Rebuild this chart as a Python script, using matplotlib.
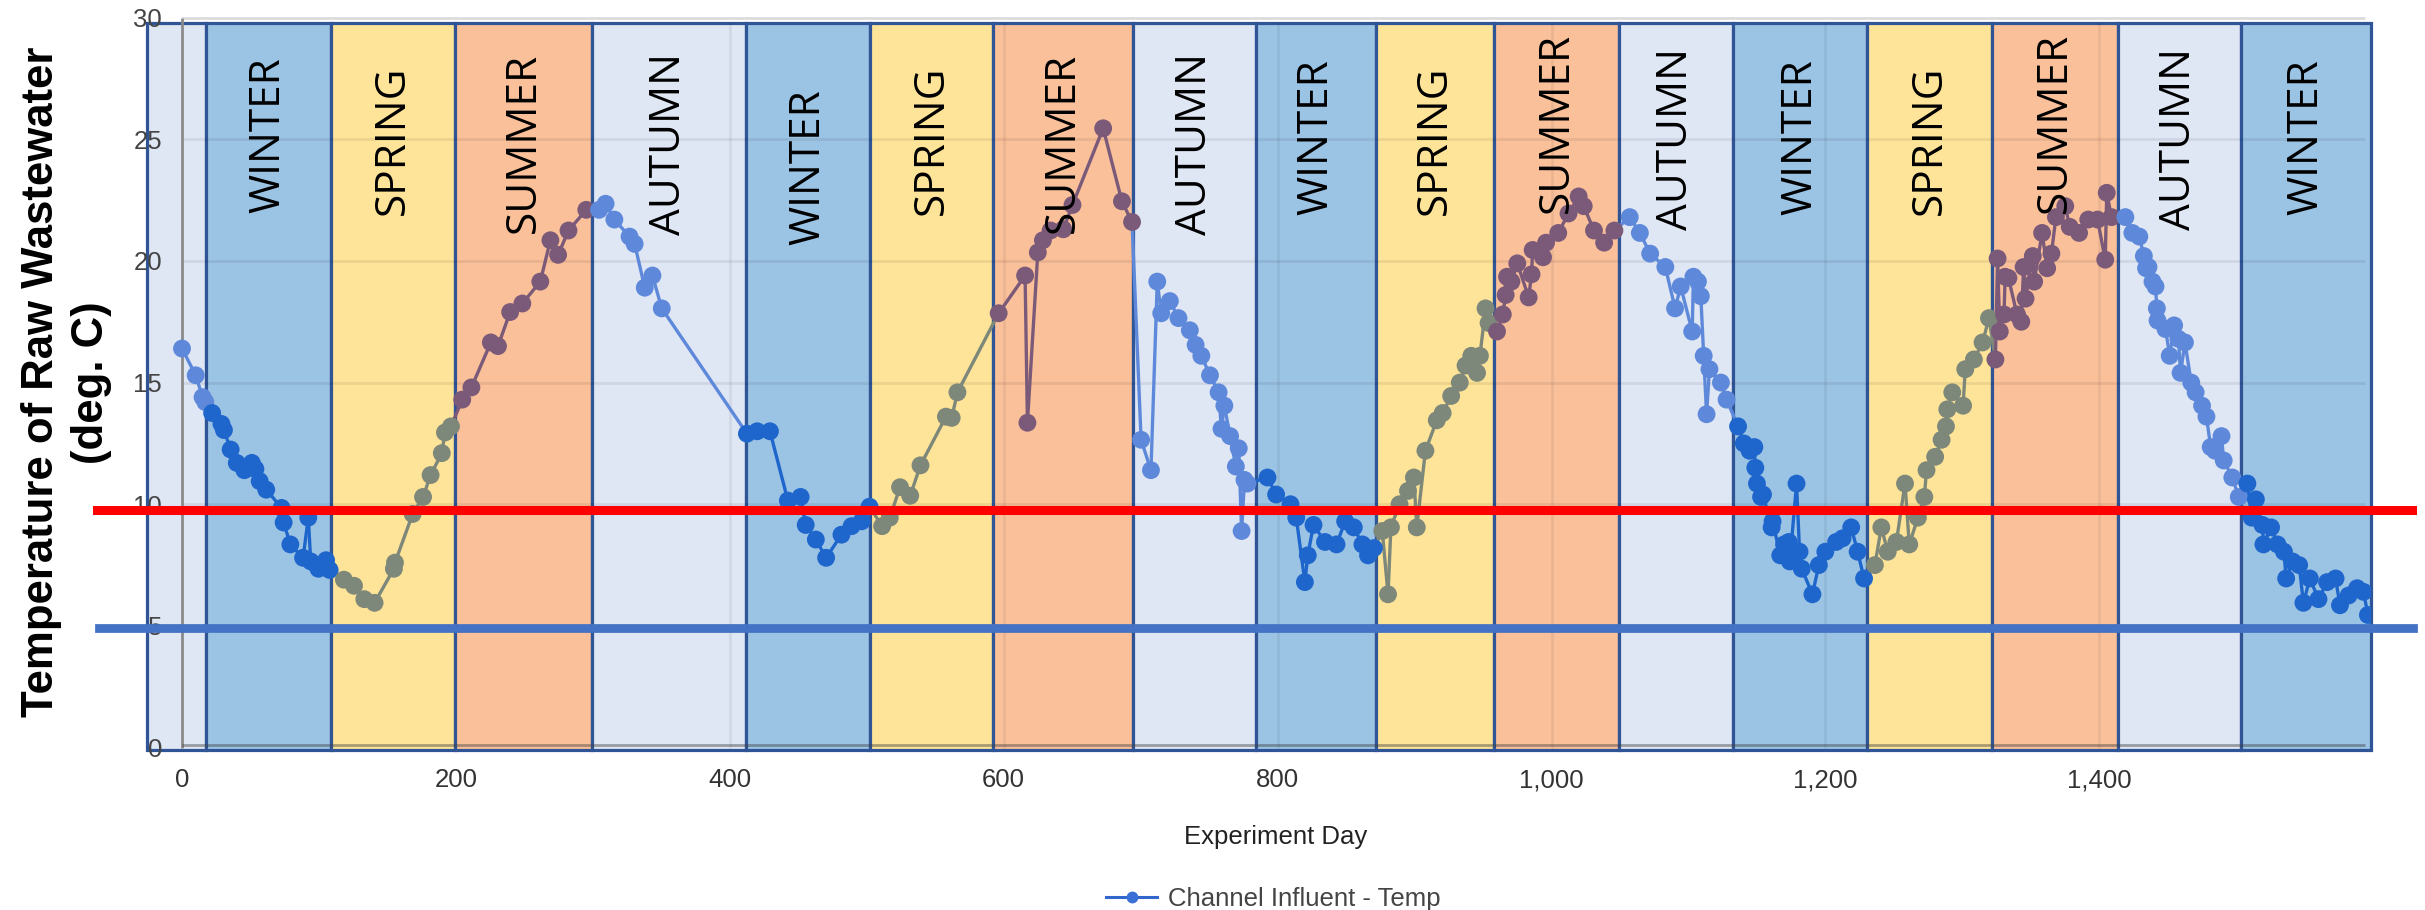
import numpy as np
import matplotlib
matplotlib.use('Agg')
import matplotlib.pyplot as plt
from matplotlib import font_manager
from matplotlib.patches import Rectangle
from matplotlib.collections import LineCollection
from matplotlib.lines import Line2D
from matplotlib.ticker import FuncFormatter

plt.rcParams['font.family'] = ['Liberation Sans', 'DejaVu Sans']

# experiment day / raw wastewater temperature (deg C)
day = np.array([
    0, 10, 15, 17, 22, 28.8, 30.6, 35.5, 40, 45.5, 51, 53.6, 56.7, 61.5, 72.7, 74.2, 79.1,
    88.4, 92.2, 94, 99.6, 105.2, 107.8,
    118.2, 125.6, 133.1, 140.6, 154.7, 155.5, 168.4, 176, 181.5, 189.7, 192, 196.4,
    204.6, 211.3, 225.5, 230.7, 239.6, 248.5, 261.6, 269, 274.6, 282.2, 295.2,
    304.5, 309.3, 315.7, 326.8, 330.5, 337.9, 343.5, 350.3, 412.5, 420, 429.3,
    442.4, 451.7, 455.4, 462.8, 470.3, 481.5, 488.9, 496.3, 502,
    511.2, 516.8, 524.3, 531.7, 539.2, 557.8, 562, 566.2,
    596.3, 615.6, 617.3, 624.9, 628.6, 634.2, 643.5, 650.2, 672.6, 686.3, 693.7,
    700.3, 707.5, 712.1, 715, 721.3, 727.6, 735.9, 740.1, 744.3, 750.6, 756.9, 759, 761.1,
    765.3, 769.5, 771.6, 773.7, 775.8, 777.9,
    792.6, 798.9, 809.4, 813.6, 819.9, 822, 826.2, 834.6, 843, 849.3, 855.6, 861.9, 866, 870.3,
    876.4, 880.6, 882.7, 889, 895.2, 899.5, 901.6, 907.9, 916.2, 920.5, 926.7, 933, 937.2,
    941.4, 945.6, 947.7, 951.8, 954,
    960.2, 964.4, 966.5, 967.5, 970.7, 975, 983.3, 985.4, 986.2, 993.8, 996, 1004.9, 1012.4,
    1019.8, 1023.5, 1031, 1038.4, 1045.9,
    1057.1, 1064.5, 1072, 1083.1, 1090.2, 1094.3, 1102.7, 1103.6, 1106.9, 1109, 1111.1,
    1113.2, 1115.3, 1123.7, 1127.8,
    1136.2, 1140.4, 1144.6, 1148.1, 1148.8, 1150, 1153, 1154.4, 1160.7, 1161.4, 1167, 1169.8,
    1173.2, 1174, 1178.9, 1181.1, 1182.7, 1190.5, 1195.2, 1199.9, 1207.8, 1212.5, 1218.8,
    1223.5, 1228.2,
    1236.1, 1240.8, 1245.5, 1251.8, 1258.1, 1261.2, 1267.5, 1272.2, 1273.8, 1280.1, 1284.8,
    1288, 1289, 1292.6, 1300.5, 1302.1, 1308.4, 1314.7, 1319.4,
    1324.1, 1325.7, 1327.3, 1330.4, 1331.2, 1333.6, 1339.9, 1343, 1344.7, 1346.1, 1351.4,
    1352.4, 1358.2, 1361.9, 1365, 1368.3, 1375.1, 1378.4, 1385.2, 1391.9, 1398.7, 1404.3,
    1405.4, 1408.9,
    1419, 1424.1, 1429.2, 1432.5, 1434.1, 1435.9, 1438.8, 1441, 1442, 1442.5, 1448.3, 1451.4,
    1454.6, 1457.7, 1459.3, 1462.5, 1467.1, 1470.3, 1475, 1478.2, 1481.3, 1484.5, 1489.2,
    1490.8, 1497.1, 1501.8,
    1508.1, 1511.2, 1514.3, 1519.1, 1519.8, 1525.4, 1530.1, 1534.8, 1536.4, 1541.1, 1545.9,
    1549, 1553.7, 1560, 1566.3, 1572.5, 1575.7, 1582, 1588.2, 1592.9, 1596.1])

temp = np.array([
    16.4, 15.3, 14.4, 14.2, 13.75, 13.3, 13.05, 12.25, 11.7, 11.4, 11.7, 11.45, 10.95, 10.6,
    9.85, 9.25, 8.35, 7.8, 9.45, 7.65, 7.35, 7.7, 7.3,
    6.9, 6.65, 6.1, 5.95, 7.35, 7.6, 9.6, 10.3, 11.2, 12.1, 12.95, 13.2,
    14.3, 14.8, 16.65, 16.5, 17.9, 18.25, 19.15, 20.85, 20.25, 21.25, 22.1,
    22.1, 22.35, 21.7, 21.0, 20.7, 18.9, 19.4, 18.05, 12.9, 13.0, 13.0,
    10.15, 10.3, 9.15, 8.55, 7.8, 8.75, 9.1, 9.3, 9.9,
    9.1, 9.45, 10.7, 10.35, 11.6, 13.6, 13.55, 14.6,
    17.85, 19.4, 13.35, 20.35, 20.85, 21.25, 21.3, 22.3, 25.45, 22.45, 21.6,
    12.65, 11.4, 19.15, 17.85, 18.35, 17.65, 17.15, 16.55, 16.1, 15.3, 14.6, 13.1, 14.05,
    12.8, 11.55, 12.3, 8.9, 11.0, 10.85,
    11.1, 10.4, 10.0, 9.45, 6.8, 7.9, 9.15, 8.45, 8.35, 9.3, 9.05, 8.35, 7.9, 8.2,
    8.9, 6.3, 9.05, 10.0, 10.55, 11.1, 9.05, 12.2, 13.45, 13.75, 14.45, 15.0, 15.7,
    16.1, 15.4, 16.1, 18.05, 17.45,
    17.1, 17.8, 18.6, 19.35, 19.15, 19.9, 18.5, 19.45, 20.45, 20.15, 20.75, 21.15, 21.95,
    22.65, 22.25, 21.25, 20.75, 21.25,
    21.8, 21.15, 20.3, 19.75, 18.05, 18.95, 17.1, 19.35, 19.15, 18.55, 16.1,
    13.7, 15.55, 15.0, 14.3,
    13.2, 12.5, 12.2, 12.35, 11.5, 10.85, 10.3, 10.4, 9.05, 9.3, 7.9, 8.35,
    8.45, 7.65, 10.85, 8.05, 7.35, 6.3, 7.5, 8.05, 8.45, 8.6, 9.05,
    8.05, 6.95,
    7.5, 9.05, 8.05, 8.45, 10.85, 8.35, 9.45, 10.3, 11.4, 11.95, 12.65,
    13.2, 13.9, 14.6, 14.05, 15.55, 15.95, 16.65, 17.65,
    15.95, 20.1, 17.1, 17.8, 19.35, 19.3, 17.8, 17.5, 19.75, 18.45, 20.2,
    19.15, 21.15, 19.7, 20.3, 21.8, 22.25, 21.4, 21.15, 21.7, 21.7, 20.05,
    22.8, 21.8,
    21.8, 21.15, 21.0, 20.2, 19.7, 19.75, 19.15, 18.95, 18.05, 17.55, 17.2, 16.1,
    17.35, 16.8, 15.4, 16.65, 15.0, 14.6, 14.05, 13.6, 12.35, 12.2, 12.8,
    11.8, 11.1, 10.3,
    10.85, 9.45, 10.2, 9.15, 8.35, 9.05, 8.35, 8.05, 6.95, 7.65, 7.5,
    5.95, 6.95, 6.1, 6.8, 6.95, 5.85, 6.25, 6.55, 6.4, 5.45])

season_edges = [17.6, 108.9, 199.0, 299.6, 411.6, 502.5, 592.5, 694.6, 784.0, 871.9,
                958.3, 1049.6, 1132.8, 1230.0, 1321.8, 1413.3, 1503.4, 1598.3]
season_names = ['WINTER', 'SPRING', 'SUMMER', 'AUTUMN'] * 4 + ['WINTER']
# where each season word starts (bottom of the rotated text), deg C
label_y = [21.97, 21.89, 21.15, 21.07, 20.66, 21.89, 21.15, 21.07, 21.89, 21.89,
           21.97, 21.28, 21.89, 21.89, 21.97, 21.28, 21.89]

limit_red = 9.75
limit_blue = 4.9

x_ticks = [0, 200, 400, 600, 800, 1000, 1200, 1400]
y_ticks = [0, 5, 10, 15, 20, 25, 30]

fill = {'WINTER': '#9BC3E4', 'SPRING': '#FEE498', 'SUMMER': '#FAC09A', 'AUTUMN': '#DFE6F4'}
dots = {'WINTER': '#1F66CC', 'SPRING': '#7D877A', 'SUMMER': '#7B5A79', 'AUTUMN': '#5E89DA'}
edge = '#2F5597'

fig = plt.figure(figsize=(24.25, 9.1), dpi=100)
ax = fig.add_axes([0.0606, 0.1758, 0.9171, 0.8062])
ax.set_xlim(-25.6, 1598.3)
ax.set_ylim(-0.1, 30.05)
for s in ax.spines.values():
    s.set_visible(False)

band_top = 29.79
# season bands (the part left of the first winter looks like autumn)
starts = [ax.get_xlim()[0]] + season_edges[:-1]
names = ['AUTUMN'] + season_names
ends = season_edges
for x0, x1, nm in zip(starts, ends, names):
    ax.add_patch(Rectangle((x0, -0.1), x1 - x0, band_top + 0.1, facecolor=fill[nm],
                           edgecolor=edge, lw=2.3, zorder=1, clip_on=False))

# chart grid under the overlay look
ax.hlines([5, 10, 15, 20, 25], 0, 1594, color=(0, 0, 0, 0.07), lw=2, zorder=1.2)
ax.vlines([400, 600, 800, 1000, 1200, 1400], 0, band_top, color=(0, 0, 0, 0.06), lw=2, zorder=1.2)
ax.hlines(30, 0, 1594, color='#dcdcdc', lw=2, zorder=1.2, clip_on=False)
ax.vlines(0, 0, 30, color='#8a8a8a', lw=2, zorder=1.3)
ax.hlines(0.1, 0, 1594, color=(0.25, 0.25, 0.25, 0.45), lw=2, zorder=1.3)

for i, nm in enumerate(season_names):
    xc = (starts[i + 1] + ends[i + 1]) / 2
    ax.text(xc, label_y[i], nm, rotation=90, ha='center', va='bottom',
            fontsize=30.5, family=['Open Sans', 'DejaVu Sans'], color='black', zorder=5)

# data, coloured by the season it falls in
band_idx = np.searchsorted(season_edges, day, side='right')
pt_col = [dots[names[i]] for i in band_idx]
mid = (day[1:] + day[:-1]) / 2
seg_col = [dots[names[i]] for i in np.searchsorted(season_edges, mid, side='right')]
segs = np.stack([np.column_stack([day[:-1], temp[:-1]]),
                 np.column_stack([day[1:], temp[1:]])], axis=1)
ax.add_collection(LineCollection(segs, colors=seg_col, linewidths=2.4, zorder=3))
ax.scatter(day, temp, s=165, c=pt_col, linewidths=0, zorder=4)

ax.axhline(limit_red, xmin=-0.0225, xmax=1.0184, color='#FF0000', lw=6.5, zorder=6, clip_on=False)
ax.axhline(limit_blue, xmin=-0.0216, xmax=1.0189, color='#4472C4', lw=6.3, zorder=6, clip_on=False)

ax.set_xticks(x_ticks)
ax.xaxis.set_major_formatter(FuncFormatter(lambda v, p: f'{int(v):,}'))
ax.set_yticks(y_ticks)
ax.tick_params(axis='x', length=0, pad=13, labelsize=18.5, labelcolor='#333333')
ax.tick_params(axis='y', length=0, pad=-10.8, labelsize=18.5, labelcolor='#444444')

fig.text(0.526, 0.0802, 'Experiment Day', ha='center', va='center', fontsize=18.5, color='#222222')

avail = {f.name for f in font_manager.fontManager.ttflist}
if 'Liberation Sans Narrow' in avail:
    yfam, ysize = 'Liberation Sans Narrow', 38
else:
    yfam, ysize = 'Liberation Sans', 31.5
fig.text(0.0275, 0.58, 'Temperature of Raw Wastewater\n(deg. C)', rotation=90,
         ha='center', va='center', multialignment='center', fontsize=ysize,
         fontweight='bold', family=yfam, linespacing=1.3, color='black')

h = Line2D([], [], color='#3366CC', marker='o', markersize=8.5, lw=2.2,
           markerfacecolor='#3A6FD8', markeredgewidth=0)
fig.legend([h], ['Channel Influent - Temp'], loc='center', bbox_to_anchor=(0.525, 0.012),
           frameon=False, fontsize=18.5, labelcolor='#444444', handlelength=2,
           handletextpad=0.4)

fig.savefig('out.png', dpi=100)
